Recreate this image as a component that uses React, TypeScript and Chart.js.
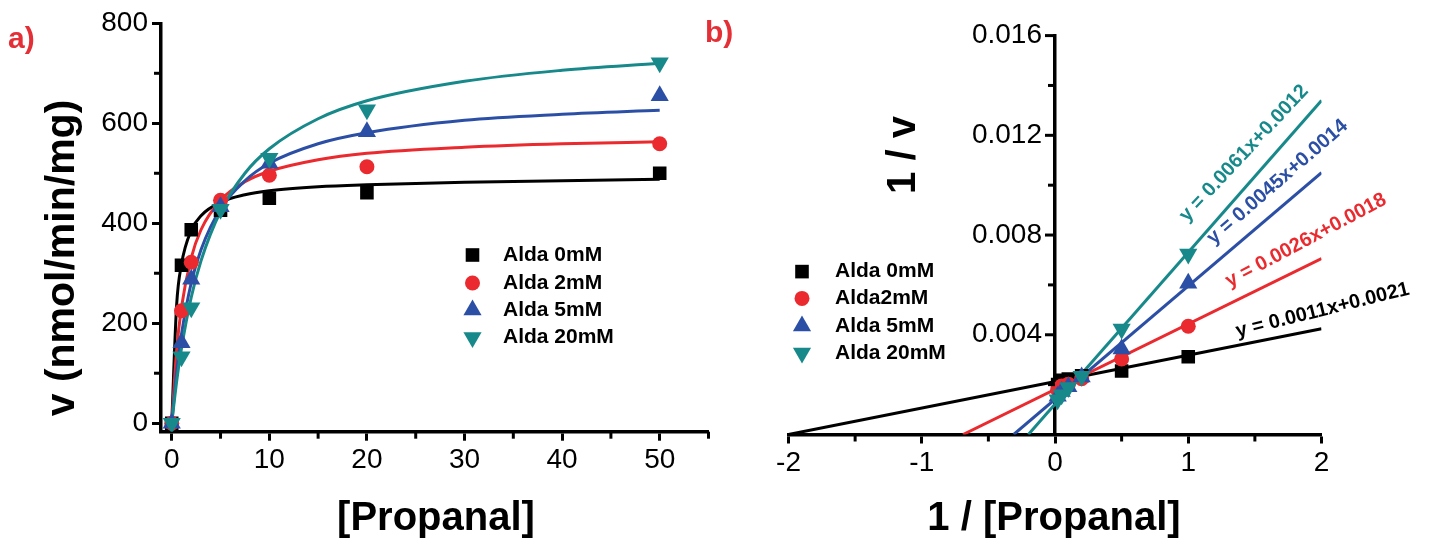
import React, { useEffect, useRef } from 'react';
import { Chart, registerables } from 'chart.js';
Chart.register(...registerables);

// ---------------- Panel a: Michaelis–Menten ----------------
const substrate = [0, 1, 2, 5, 10, 20, 50];
const rateAlda0 = [0, 316, 387, 426, 450, 461, 500];
const rateAlda2 = [0, 225, 322, 446, 496, 513, 559];
const rateAlda5 = [0, 161, 288, 433, 520, 583, 655];
const rateAlda20 = [0, 133, 231, 428, 530, 627, 721];

// fitted curves
const curveX = [0, 0.5, 1, 2, 3, 5, 7.5, 10, 15, 20, 30, 40, 50];
const curveAlda0 = [0, 236, 318, 386, 415, 442, 457, 465, 473, 477, 482, 485, 488];
const curveAlda2 = [0, 145, 232, 331, 387, 446, 483, 504, 527, 540, 552, 559, 563];
const curveAlda5 = [0, 103, 178, 281, 347, 429, 485, 520, 559, 581, 606, 618, 626];
const curveAlda20 = [0, 83, 150, 252, 325, 424, 500, 549, 609, 645, 684, 706, 720];

const xTicksA = [0, 10, 20, 30, 40, 50];
const xMinorA = [5, 15, 25, 35, 45, 55];
const yTicksA = [0, 200, 400, 600, 800];
const yMinorA = [100, 300, 500, 700];

// ---------------- Panel b: Lineweaver–Burk ----------------
const invSubstrate = [0.02, 0.05, 0.1, 0.2, 0.5, 1];
const invRateAlda0 = [0.002, 0.00217, 0.00222, 0.00235, 0.00255, 0.00312];
const invRateAlda2 = [0.00179, 0.00195, 0.00202, 0.00224, 0.00303, 0.00434];
const invRateAlda5 = [0.00153, 0.00172, 0.00192, 0.00231, 0.00343, 0.00607];
const invRateAlda20 = [0.00139, 0.00159, 0.00189, 0.00234, 0.00423, 0.00724];

const fitLineX0 = [-2, 2];
const fitLineY0 = [0, 0.00424];
const fitLineX2 = [-0.69, 2];
const fitLineY2 = [0, 0.00706];
const fitLineX5 = [-0.31, 2];
const fitLineY5 = [0, 0.0105];
const fitLineX20 = [-0.2, 2];
const fitLineY20 = [0, 0.0134];

const equationTexts = ['y = 0.0011x+0.0021', 'y = 0.0026x+0.0018', 'y = 0.0045x+0.0014', 'y = 0.0061x+0.0012'];
const equationX = [1.37, 1.31, 1.19, 0.99];
const equationY = [0.0039, 0.0059, 0.0076, 0.0085];
const equationAngle = [14, 28, 41, 47];

const xMinorB = [-1.5, -0.5, 0.5, 1.5];
const yMinorB = [0.002, 0.006, 0.01, 0.014];

const labelsA = ['Alda 0mM', 'Alda 2mM', 'Alda 5mM', 'Alda 20mM'];
const labelsB = ['Alda 0mM', 'Alda2mM', 'Alda 5mM', 'Alda 20mM'];

// ---------------- styles ----------------
const FONT = '"Liberation Sans", Arial, sans-serif';
const colors = ['#000000', '#ea2a2e', '#2c4fa6', '#17898a'];
const markers = ['rect', 'circle', 'triangle', 'triangleDown'];
const RED_LABEL = '#e42f36';

const pts = (xs: number[], ys: number[]) => xs.map((x, i) => ({ x, y: ys[i] }));

function pointOpts(i: number) {
  const m = markers[i];
  return {
    pointStyle: m === 'triangleDown' ? 'triangle' : m,
    rotation: m === 'triangleDown' ? 180 : 0,
    pointRotation: m === 'triangleDown' ? 180 : 0,
    pointRadius: m === 'rect' ? 9.6 : m === 'circle' ? 7.5 : 10.5,
    pointBackgroundColor: colors[i],
    pointBorderColor: colors[i],
    pointBorderWidth: 0,
    showLine: false,
  };
}

function drawMarker(ctx: CanvasRenderingContext2D, kind: string, x: number, y: number, color: string) {
  ctx.save();
  ctx.fillStyle = color;
  ctx.beginPath();
  if (kind === 'rect') {
    const s = 6.8;
    ctx.rect(x - s, y - s, 2 * s, 2 * s);
  } else if (kind === 'circle') {
    ctx.arc(x, y, 7.5, 0, Math.PI * 2);
  } else {
    const r = 10.5;
    const d = kind === 'triangle' ? 1 : -1;
    ctx.moveTo(x, y - d * r);
    ctx.lineTo(x + r * 0.866, y + d * r * 0.5);
    ctx.lineTo(x - r * 0.866, y + d * r * 0.5);
    ctx.closePath();
  }
  ctx.fill();
  ctx.restore();
}

type TextItem = { text: string; x: number; y: number; font: string; color: string; align: CanvasTextAlign; baseline: CanvasTextBaseline; rotate?: number };

function textPlugin(id: string, items: TextItem[]) {
  return {
    id,
    afterDraw(chart: any) {
      const ctx = chart.ctx as CanvasRenderingContext2D;
      items.forEach((it) => {
        ctx.save();
        ctx.font = it.font;
        ctx.fillStyle = it.color;
        ctx.textAlign = it.align;
        ctx.textBaseline = it.baseline;
        ctx.translate(it.x, it.y);
        if (it.rotate) ctx.rotate((it.rotate * Math.PI) / 180);
        ctx.fillText(it.text, 0, 0);
        ctx.restore();
      });
    },
  };
}

function legendPlugin(id: string, labels: string[], mx: number, tx: number, rows: number[]) {
  return {
    id,
    afterDraw(chart: any) {
      const ctx = chart.ctx as CanvasRenderingContext2D;
      labels.forEach((lab, i) => {
        drawMarker(ctx, markers[i], mx, rows[i], colors[i]);
        ctx.save();
        ctx.font = `bold 21px ${FONT}`;
        ctx.fillStyle = '#000';
        ctx.textAlign = 'left';
        ctx.textBaseline = 'middle';
        ctx.fillText(lab, tx, rows[i]);
        ctx.restore();
      });
    },
  };
}

function minorTickPlugin(id: string, xs: number[], ys: number[], yAxisAtZero: boolean) {
  return {
    id,
    afterDraw(chart: any) {
      const ctx = chart.ctx as CanvasRenderingContext2D;
      const xs_ = chart.scales.x;
      const ys_ = chart.scales.y;
      const area = chart.chartArea;
      const axisX = yAxisAtZero ? xs_.getPixelForValue(0) : area.left;
      ctx.save();
      ctx.strokeStyle = '#000';
      ctx.lineWidth = 3;
      xs.forEach((v) => {
        const p = xs_.getPixelForValue(v);
        ctx.beginPath();
        ctx.moveTo(p, area.bottom);
        ctx.lineTo(p, area.bottom + 7);
        ctx.stroke();
      });
      ys.forEach((v) => {
        const p = ys_.getPixelForValue(v);
        ctx.beginPath();
        ctx.moveTo(axisX, p);
        ctx.lineTo(axisX - 7, p);
        ctx.stroke();
      });
      ctx.restore();
    },
  };
}

// y axis of panel b sits at x = 0: its major ticks and labels are drawn from the scale's ticks
function crossingYAxisPlugin() {
  return {
    id: 'yAxisB',
    afterDraw(chart: any) {
      const ctx = chart.ctx as CanvasRenderingContext2D;
      const ys = chart.scales.y;
      const ax = chart.scales.x.getPixelForValue(0);
      ctx.save();
      ctx.strokeStyle = '#000';
      ctx.fillStyle = '#000';
      ctx.lineWidth = 3;
      ctx.font = `28px ${FONT}`;
      ctx.textAlign = 'right';
      ctx.textBaseline = 'middle';
      ys.ticks.forEach((t: any) => {
        if (Math.abs(t.value) < 1e-9) return;
        const p = ys.getPixelForValue(t.value);
        ctx.beginPath();
        ctx.moveTo(ax, p);
        ctx.lineTo(ax - 10, p);
        ctx.stroke();
        ctx.fillText(Number(t.value).toFixed(3), ax - 13, p);
      });
      ctx.restore();
    },
  };
}

function equationPlugin() {
  return {
    id: 'equations',
    afterDraw(chart: any) {
      const ctx = chart.ctx as CanvasRenderingContext2D;
      equationTexts.forEach((t, i) => {
        const px = chart.scales.x.getPixelForValue(equationX[i]);
        const py = chart.scales.y.getPixelForValue(equationY[i]);
        ctx.save();
        ctx.font = `bold 20px ${FONT}`;
        ctx.fillStyle = colors[i];
        ctx.textAlign = 'left';
        ctx.textBaseline = 'alphabetic';
        ctx.translate(px, py);
        ctx.rotate((-equationAngle[i] * Math.PI) / 180);
        ctx.fillText(t, 0, 0);
        ctx.restore();
      });
    },
  };
}

const tickFont = { family: FONT, size: 28, weight: 'normal' as const };
const gridOpts = { drawOnChartArea: false, drawTicks: true, tickLength: 9, tickWidth: 3, tickColor: '#000', color: '#000' };
const borderOpts = { display: true, color: '#000', width: 3.5 };

export default function App() {
  const refA = useRef<HTMLCanvasElement>(null);
  const refB = useRef<HTMLCanvasElement>(null);

  useEffect(() => {
    const seriesA = [rateAlda0, rateAlda2, rateAlda5, rateAlda20];
    const curvesA = [curveAlda0, curveAlda2, curveAlda5, curveAlda20];
    const order = [3, 2, 1, 0];

    const datasetsA: any[] = [];
    order.forEach((i) => datasetsA.push({ label: labelsA[i], data: pts(substrate, seriesA[i]), ...pointOpts(i) }));
    order.forEach((i) =>
      datasetsA.push({
        label: labelsA[i] + ' fit',
        data: pts(curveX, curvesA[i]),
        showLine: true,
        pointRadius: 0,
        borderColor: colors[i],
        borderWidth: 3,
        cubicInterpolationMode: 'monotone',
      })
    );

    const chartA = new Chart(refA.current!, {
      type: 'scatter',
      data: { datasets: datasetsA },
      options: {
        responsive: false,
        animation: false,
        layout: { padding: { left: 0, top: 23.3, right: 11.5, bottom: 0 } },
        plugins: { legend: { display: false }, tooltip: { enabled: false } },
        scales: {
          x: {
            type: 'linear',
            min: -1.1,
            max: 55,
            afterBuildTicks: (s: any) => { s.ticks = xTicksA.map((v) => ({ value: v })); },
            afterFit: (s: any) => { s.height = 107.3; },
            ticks: { font: tickFont, color: '#000', padding: 3, maxRotation: 0 },
            grid: gridOpts,
            border: borderOpts,
          },
          y: {
            type: 'linear',
            min: -17,
            max: 800,
            afterBuildTicks: (s: any) => { s.ticks = yTicksA.map((v) => ({ value: v })); },
            afterFit: (s: any) => { s.width = 161; },
            ticks: { font: tickFont, color: '#000', padding: 4 },
            grid: gridOpts,
            border: borderOpts,
          },
        },
      } as any,
      plugins: [
        minorTickPlugin('minorA', xMinorA, yMinorA, false),
        legendPlugin('legendA', labelsA, 472.5, 503, [255, 283, 310, 337.5]),
        textPlugin('textA', [
          { text: 'a)', x: 8, y: 48, font: `bold 30px ${FONT}`, color: RED_LABEL, align: 'left', baseline: 'alphabetic' },
          { text: 'v (nmol/min/mg)', x: 74, y: 258, font: `bold 41px ${FONT}`, color: '#000', align: 'center', baseline: 'alphabetic', rotate: -90 },
          { text: '[Propanal]', x: 436, y: 530, font: `bold 40px ${FONT}`, color: '#000', align: 'center', baseline: 'alphabetic' },
        ]),
      ] as any,
    });

    const seriesB = [invRateAlda0, invRateAlda2, invRateAlda5, invRateAlda20];
    const linesX = [fitLineX0, fitLineX2, fitLineX5, fitLineX20];
    const linesY = [fitLineY0, fitLineY2, fitLineY5, fitLineY20];
    const datasetsB: any[] = [];
    order.forEach((i) => datasetsB.push({ label: labelsB[i], data: pts(invSubstrate, seriesB[i]), ...pointOpts(i) }));
    order.forEach((i) =>
      datasetsB.push({
        label: labelsB[i] + ' fit',
        data: pts(linesX[i], linesY[i]),
        showLine: true,
        pointRadius: 0,
        borderColor: colors[i],
        borderWidth: 3,
      })
    );

    const chartB = new Chart(refB.current!, {
      type: 'scatter',
      data: { datasets: datasetsB },
      options: {
        responsive: false,
        animation: false,
        layout: { padding: { left: 98.5, top: 35.6, right: 107.5, bottom: 0 } },
        plugins: { legend: { display: false }, tooltip: { enabled: false } },
        scales: {
          x: {
            type: 'linear',
            min: -2,
            max: 2,
            ticks: { stepSize: 1, font: tickFont, color: '#000', padding: 3, maxRotation: 0 },
            afterFit: (s: any) => { s.height = 104.5; },
            grid: gridOpts,
            border: borderOpts,
          },
          y: {
            type: 'linear',
            position: { x: 0 },
            min: 0,
            max: 0.016,
            ticks: { stepSize: 0.004, display: false },
            grid: { display: false },
            border: borderOpts,
          },
        },
      } as any,
      plugins: [
        minorTickPlugin('minorB', xMinorB, yMinorB, true),
        crossingYAxisPlugin(),
        equationPlugin(),
        legendPlugin('legendB', labelsB, 112, 145, [271.6, 298.4, 325.9, 353]),
        textPlugin('textB', [
          { text: 'b)', x: 15, y: 42, font: `bold 30px ${FONT}`, color: RED_LABEL, align: 'left', baseline: 'alphabetic' },
          { text: '1 / v', x: 225, y: 155, font: `bold 40px ${FONT}`, color: '#000', align: 'center', baseline: 'alphabetic', rotate: -90 },
          { text: '1 / [Propanal]', x: 364, y: 530, font: `bold 40px ${FONT}`, color: '#000', align: 'center', baseline: 'alphabetic' },
        ]),
      ] as any,
    });

    return () => {
      chartA.destroy();
      chartB.destroy();
    };
  }, []);

  return (
    <div style={{ position: 'fixed', left: 0, top: 0, width: 1429, height: 539, background: '#fff', overflow: 'hidden' }}>
      <canvas ref={refA} width={720} height={539} style={{ position: 'absolute', left: 0, top: 0, width: 720, height: 539 }} />
      <canvas ref={refB} width={739} height={539} style={{ position: 'absolute', left: 690, top: 0, width: 739, height: 539 }} />
    </div>
  );
}
